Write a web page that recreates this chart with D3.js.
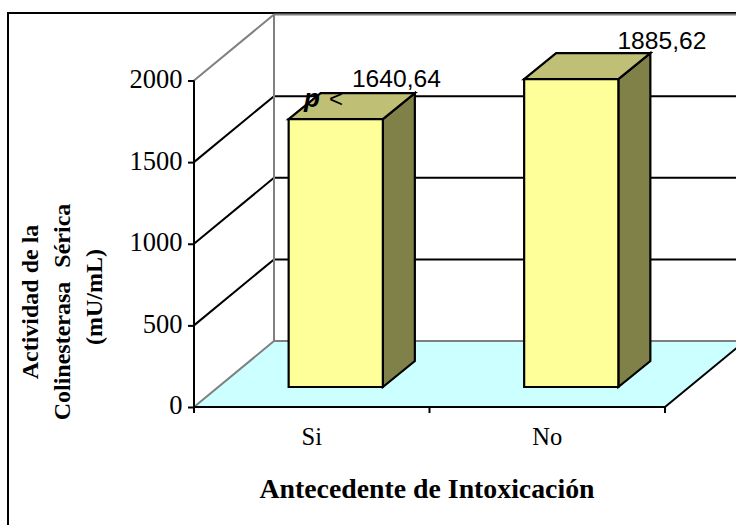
<!DOCTYPE html>
<html><head><meta charset="utf-8">
<script src="https://cdn.jsdelivr.net/npm/d3@7"></script>
<style>html,body{margin:0;padding:0;background:#fff}svg{display:block}</style></head>
<body><svg id="c" width="736" height="525"></svg>
<script>
const categories = ["Si", "No"];
const values = [1640.64, 1885.62];
const valueLabels = ["1640,64", "1885,62"];
const yTicks = [0, 500, 1000, 1500, 2000];
const yTitleLines = ["Actividad de la", "Colinesterasa Sérica", "(mU/mL)"];
const xTitle = "Antecedente de Intoxicación";
const annotation = "p <";

const svg = d3.select("#c");
const serif = "'Liberation Serif','Times New Roman',serif";
const sans = "'Liberation Sans',Arial,sans-serif";
const x0 = 194, x1 = 665, yBase = 407, yTop = 80.5;
const depthX = 80, depthY = -66;
const barOffX = 24, barOffY = -20, barDX = 32, barDY = -26;
const labelOffsets = [[26, -6], [56, -4]];
const yTitleCenters = [302, 312, 297];
const yTitleBase = [38, 70, 102];

const x = d3.scaleBand().domain(categories).range([x0, x1]).paddingInner(0.6).paddingOuter(0.3);
const y = d3.scaleLinear().domain([0, 2000]).range([yBase, yTop]);

svg.append("clipPath").attr("id","clip").append("rect").attr("width",736).attr("height",525);
const g = svg.append("g").attr("clip-path","url(#clip)");

// frame
g.append("rect").attr("x",8).attr("y",13).attr("width",740).attr("height",520).attr("fill","none").attr("stroke","#000").attr("stroke-width",2);

// floor
g.append("path").attr("fill","#ccffff")
 .attr("d",`M${x0},${yBase}L${x0+depthX},${yBase+depthY}L${x1+depthX},${yBase+depthY}L${x1},${yBase}Z`);
g.append("line").attr("x1",x1).attr("y1",yBase).attr("x2",x1+depthX).attr("y2",yBase+depthY).attr("stroke","#000").attr("stroke-width",2);

// walls and grid
yTicks.forEach(t => {
  const col = (t === 0 || t === 2000) ? "#808080" : "#000";
  g.append("path").attr("fill","none").attr("stroke",col).attr("stroke-width",2)
   .attr("d",`M${x0},${y(t)}L${x0+depthX},${y(t)+depthY}L${x1+depthX},${y(t)+depthY}`);
});
g.append("line").attr("x1",x0+depthX).attr("x2",x0+depthX).attr("y1",y(0)+depthY).attr("y2",y(2000)+depthY).attr("stroke","#808080").attr("stroke-width",2);

// bars
categories.forEach((c,i) => {
  const bl = x(c)+barOffX, br = bl+x.bandwidth();
  const b = y(0)+barOffY, t = y(values[i])+barOffY;
  const st = {stroke:"#000","stroke-width":2.2,"stroke-linejoin":"miter"};
  const add = (d,fill) => { const p=g.append("path").attr("d",d).attr("fill",fill); for(const k in st)p.attr(k,st[k]); };
  add(`M${br},${t}L${br+barDX},${t+barDY}L${br+barDX},${b+barDY}L${br},${b}Z`,"#808049");
  add(`M${bl},${t}L${bl+barDX},${t+barDY}L${br+barDX},${t+barDY}L${br},${t}Z`,"#bfbf75");
  add(`M${bl},${t}H${br}V${b}H${bl}Z`,"#ffff99");
  g.append("text").attr("x",br+barDX+labelOffsets[i][0]).attr("y",t+barDY+labelOffsets[i][1]).attr("text-anchor","end")
   .attr("font-family",sans).attr("font-size",24.6).attr("fill","#000").text(valueLabels[i]);
});

// annotation
const ann = g.append("text").attr("x",304).attr("y",107).attr("font-family",sans).attr("font-size",24).attr("fill","#000");
ann.append("tspan").attr("font-weight","bold").attr("font-style","italic").attr("font-size",26).text(annotation.split(" ")[0]);
ann.append("tspan").attr("dx",9).text(annotation.split(" ")[1]);

// axes
const yAxis = d3.axisLeft(y).tickValues(yTicks).tickSize(6).tickPadding(5.5).tickFormat(d3.format("d"));
const ya = g.append("g").attr("transform",`translate(${x0},0)`).call(yAxis);
const xScaleTicks = d3.scaleBand().domain(categories).range([x0,x1]);
const xa = g.append("g").attr("transform",`translate(0,${yBase})`);
xa.append("line").attr("x1",x0).attr("x2",x1).attr("stroke","#000").attr("stroke-width",2);
[x0, xScaleTicks("No"), x1].forEach(v => xa.append("line").attr("x1",v).attr("x2",v).attr("y2",6).attr("stroke","#000").attr("stroke-width",2));
categories.forEach(c => xa.append("text").attr("x",xScaleTicks(c)+xScaleTicks.bandwidth()/2).attr("y",38).attr("text-anchor","middle")
  .attr("font-family",serif).attr("font-size",24.5).attr("fill","#000").text(c));
ya.selectAll("path.domain").attr("stroke","#000").attr("stroke-width",2).attr("d",`M0,${yBase}V${yTop}`);
ya.selectAll(".tick line").attr("stroke","#000").attr("stroke-width",2);
ya.selectAll(".tick text").attr("font-family",serif).attr("font-size",26.5).attr("dy",".26em").attr("fill","#000");

// titles
g.append("text").attr("x",427).attr("y",498).attr("text-anchor","middle").attr("font-family",serif)
  .attr("font-weight","bold").attr("font-size",27.8).attr("fill","#000").text(xTitle);
yTitleLines.forEach((l,i)=>g.append("text")
  .attr("transform",`translate(${yTitleBase[i]},${yTitleCenters[i]}) rotate(-90)`).attr("text-anchor","middle")
  .attr("font-family",serif).attr("font-weight","bold").attr("font-size",24).attr("fill","#000")
  .attr("word-spacing",i===1?8:0).text(l));
</script></body></html>
